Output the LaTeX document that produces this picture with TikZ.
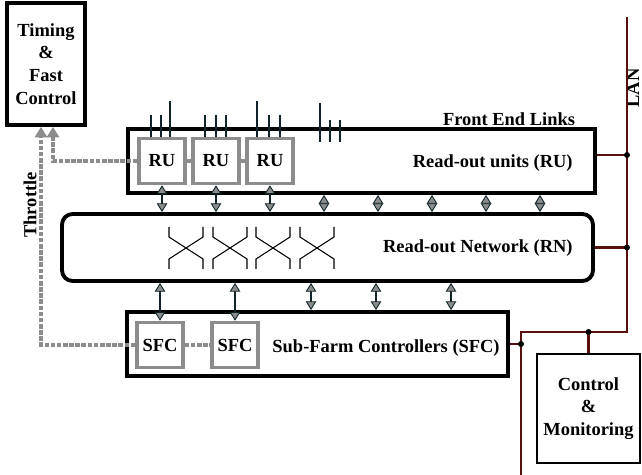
\documentclass[tikz,border=0pt]{standalone}
\usepackage{fontspec}
\setmainfont{Liberation Serif}
\usetikzlibrary{arrows.meta}
\definecolor{boxgray}{RGB}{140,140,140}
\definecolor{lanred}{RGB}{90,15,15}
\definecolor{linkdark}{RGB}{15,35,40}

\begin{document}
\begin{tikzpicture}[x=0.02cm, y=-0.02cm, % pixel grid, y going down
	every node/.style={font=\fontsize{10.5}{13}\selectfont\bfseries},
	bigbox/.style={draw=black, line width=2.2pt, fill=white},
	unitbox/.style={draw=boxgray, line width=2pt, fill=white, minimum width=0.92cm, minimum height=0.9cm, inner sep=0pt},
	link/.style={linkdark, line width=1.4pt, {Triangle[width=6pt,length=5pt,fill=boxgray,line width=0.5pt]}-{Triangle[width=6pt,length=5pt,fill=boxgray,line width=0.5pt]}},
	throttle/.style={boxgray, line width=2.2pt, dash pattern=on 2.6pt off 0.9pt},
	lan/.style={lanred, line width=1.2pt},
	fel/.style={linkdark, line width=1.1pt},
	label/.style={inner sep=0pt}]
	
	\useasboundingbox (0,0) rectangle (642,475);
	
	% boxes
	\node[bigbox, minimum width=1.56cm, minimum height=2.44cm, align=center] (tfc) at (46,64) {Timing\\\&\\Fast\\Control};
	\node[bigbox, minimum width=9.34cm, minimum height=1.28cm] (rubox) at (361.5,161) {};
	\node[unitbox] (ru1) at (162,161) {RU};
	\node[unitbox] (ru2) at (216,161) {RU};
	\node[unitbox] (ru3) at (270,161) {RU};
	\node[bigbox, rounded corners=6pt, minimum width=10.62cm, minimum height=1.34cm] (rn) at (327.5,247.5) {};
	\node[bigbox, minimum width=7.62cm, minimum height=1.28cm] (sfcbox) at (317.5,344) {};
	\node[unitbox] (sfc1) at (160,345) {SFC};
	\node[unitbox] (sfc2) at (235,345) {SFC};
	\node[bigbox, line width=1.4pt, minimum width=2.06cm, minimum height=2.18cm, align=center] (cm) at (588.5,408.5) {Control\\\&\\Monitoring};
	
	% labels
	\node[label] (fellabel) at (509,119) {Front End Links};
	\node[label, anchor=east] (rulabel) at (573,163) {Read-out units (RU)};
	\node[label, anchor=east] (rnlabel) at (573,248) {Read-out Network (RN)};
	\node[label, anchor=east] (sfclabel) at (500,348) {Sub-Farm Controllers (SFC)};
	\node[label, rotate=90] (thrlabel) at (30,205) {Throttle};
	\node[label, rotate=90, anchor=base] (lanlabel) at (639,88) {LAN};
	
	% front end links
	\draw[fel] ([xshift=-0.22cm]ru1.north) -- ++(0,-22);
	\draw[fel] ([xshift=-0.02cm]ru1.north) -- ++(0,-22);
	\draw[fel] ([xshift=0.16cm]ru1.north) -- ++(0,-36);
	\draw[fel] ([xshift=-0.22cm]ru2.north) -- ++(0,-22);
	\draw[fel] (ru2.north) -- ++(0,-22);
	\draw[fel] ([xshift=0.2cm]ru2.north) -- ++(0,-22);
	\draw[fel] ([xshift=-0.26cm]ru3.north) -- ++(0,-36);
	\draw[fel] ([xshift=-0.02cm]ru3.north) -- ++(0,-22);
	\draw[fel] ([xshift=0.2cm]ru3.north) -- ++(0,-22);
	\coordinate (fel4) at (320,142);
	\draw[fel] (fel4) -- ++(0,-39);
	\draw[fel] ([xshift=0.2cm]fel4) -- ++(0,-22);
	\draw[fel] ([xshift=0.4cm]fel4) -- ++(0,-22);
	
	% switches
	\draw[line width=0.6pt] (169,227) -- (169,237) -- (203,259) -- (203,269) (203,227) -- (203,237) -- (169,259) -- (169,269);
	\draw[line width=0.6pt] (213,227) -- (213,237) -- (247,259) -- (247,269) (247,227) -- (247,237) -- (213,259) -- (213,269);
	\draw[line width=0.6pt] (256,227) -- (256,237) -- (290,259) -- (290,269) (290,227) -- (290,237) -- (256,259) -- (256,269);
	\draw[line width=0.6pt] (300,227) -- (300,237) -- (334,259) -- (334,269) (334,227) -- (334,237) -- (300,259) -- (300,269);
	
	% RU <-> RN
	\draw[link] (ru1.south) -- (ru1.south |- rn.north);
	\draw[link] (ru2.south) -- (ru2.south |- rn.north);
	\draw[link] (ru3.south) -- (ru3.south |- rn.north);
	\coordinate (col4) at (324,0);
	\coordinate (col5) at (378,0);
	\coordinate (col6) at (432,0);
	\coordinate (col7) at (486,0);
	\coordinate (col8) at (540,0);
	\draw[link] (rubox.south -| col4) -- (rn.north -| col4);
	\draw[link] (rubox.south -| col5) -- (rn.north -| col5);
	\draw[link] (rubox.south -| col6) -- (rn.north -| col6);
	\draw[link] (rubox.south -| col7) -- (rn.north -| col7);
	\draw[link] (rubox.south -| col8) -- (rn.north -| col8);
	
	% RN <-> SFC
	\draw[link] (rn.south -| sfc1.north) -- (sfc1.north);
	\draw[link] (rn.south -| sfc2.north) -- (sfc2.north);
	\coordinate (sc3) at (311,0);
	\coordinate (sc4) at (376,0);
	\coordinate (sc5) at (451,0);
	\draw[link] (rn.south -| sc3) -- (sfcbox.north -| sc3);
	\draw[link] (rn.south -| sc4) -- (sfcbox.north -| sc4);
	\draw[link] (rn.south -| sc5) -- (sfcbox.north -| sc5);
	
	% throttle
	\draw[throttle] (ru1.east) -- (ru2.west);
	\draw[throttle] (ru2.east) -- (ru3.west);
	\draw[throttle] (sfc1.east) -- (sfc2.west);
	\draw[throttle, -{Triangle[width=7pt,length=6pt]}] (ru1.west) -| ([xshift=0.14cm]tfc.south);
	\draw[throttle, -{Triangle[width=7pt,length=6pt]}] (sfc1.west) -| ([xshift=-0.1cm]tfc.south);
	
	% LAN
	\coordinate (lantop) at (627,17);
	\coordinate (lanbend) at (627,332);
	\coordinate (lanfoot) at (521,475);
	\coordinate (rulan) at (627,155);
	\draw[lan] (lantop) -- (lanbend) -| (lanfoot);
	\draw[lan] (rubox.east |- rulan) -- (rulan);
	\draw[lan] (rn.east) -- (rn.east -| lantop);
	\draw[lan] (sfcbox.east) -- (sfcbox.east -| lanfoot);
	\draw[lan] (cm.north) -- (cm.north |- lanbend);
	\fill (rulan) circle (1.7pt);
	\fill (rn.east -| lantop) circle (1.7pt);
	\fill (sfcbox.east -| lanfoot) circle (1.7pt);
	\fill (cm.north |- lanbend) circle (1.7pt);
\end{tikzpicture}
\end{document}
